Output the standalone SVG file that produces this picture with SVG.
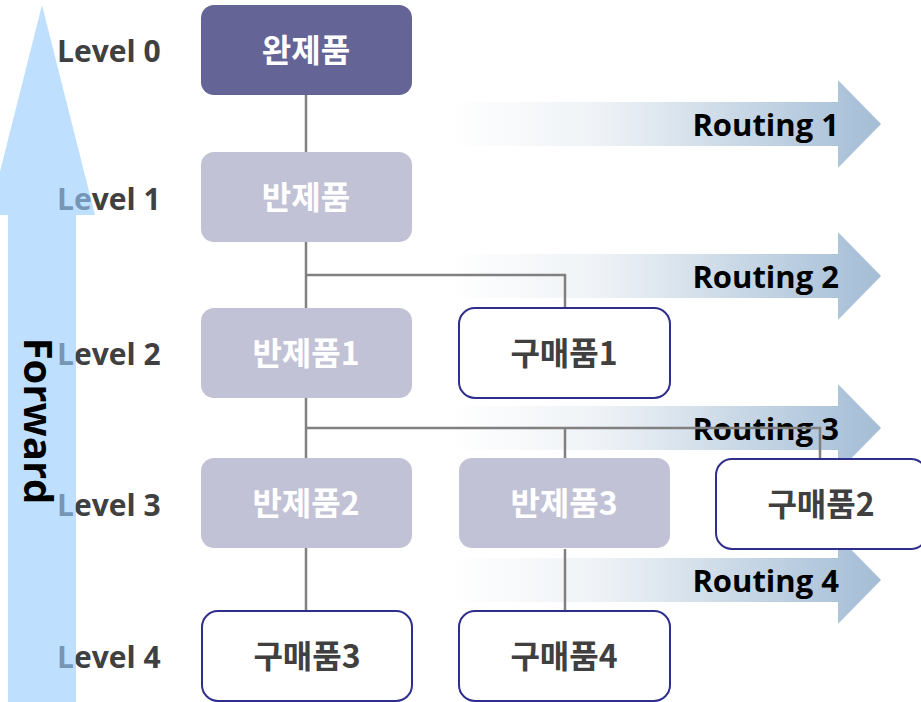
<svg xmlns="http://www.w3.org/2000/svg" width="921" height="702" viewBox="0 0 921 702">
<style>
.lvl{font-family:"Open Sans","Noto Sans CJK KR",sans-serif;font-weight:bold;font-size:30px;fill:#404040}
.rt{font-family:"Open Sans","Noto Sans CJK KR",sans-serif;font-weight:bold;font-size:31px;fill:#000000;text-anchor:end}
.nt{font-family:"Noto Sans CJK KR",sans-serif;font-weight:bold;font-size:32px;text-anchor:middle}
.w{fill:#ffffff}
.d{fill:#404040}
.dark{fill:#646496}
.semi{fill:#c2c2d6}
.buy{fill:#ffffff;stroke:#2e2e8c;stroke-width:2}
.con{fill:none;stroke:#808080;stroke-width:2.5}
.route{fill:url(#rg)}
</style>
<defs>
<linearGradient id="rg" x1="0" y1="0" x2="1" y2="0">
<stop offset="0" stop-color="#ffffff"/>
<stop offset="0.35" stop-color="#eef2f6"/>
<stop offset="1" stop-color="#a3bdd6"/>
</linearGradient>
<path id="ra" d="M450,-22 L838,-22 L838,-44 L881,0 L838,44 L838,22 L450,22 Z"/>
</defs>
<rect width="921" height="702" fill="#ffffff"/>

<g id="levels">
<text class="lvl" x="57" y="62">Level 0</text>
<text class="lvl" x="57" y="210">Level 1</text>
<text class="lvl" x="57" y="365">Level 2</text>
<text class="lvl" x="57" y="516">Level 3</text>
<text class="lvl" x="57" y="668">Level 4</text>
</g>

<g id="forward">
<polygon points="42,5 95,215 76,215 76,702 8,702 8,215 -11,215" fill="#97cbff" fill-opacity="0.62"/>
<text transform="translate(24,421) rotate(90)" text-anchor="middle" font-family="Open Sans,Noto Sans CJK KR,sans-serif" font-weight="bold" font-size="40" fill="#000000">Forward</text>
</g>

<g id="routings">
<use href="#ra" class="route" transform="translate(0,124)"/>
<use href="#ra" class="route" transform="translate(0,276)"/>
<use href="#ra" class="route" transform="translate(0,428)"/>
<use href="#ra" class="route" transform="translate(0,580)"/>
<text class="rt" x="839" y="136">Routing 1</text>
<text class="rt" x="839" y="288">Routing 2</text>
<text class="rt" x="839" y="440">Routing 3</text>
<text class="rt" x="839" y="592">Routing 4</text>
</g>

<g id="connectors">
<path class="con" d="M306,95 V152"/>
<path class="con" d="M306,242 V308 M306,275 H565 V308"/>
<path class="con" d="M306,398 V458 M306,428 H820 V458 M565,428 V458"/>
<path class="con" d="M306,548 V610"/>
<path class="con" d="M565,549 V610"/>
</g>

<g id="n-wanjepum"><rect class="dark" x="201" y="5" width="211" height="90" rx="13"/><text class="nt w" x="306" y="62">완제품</text></g>
<g id="n-banjepum"><rect class="semi" x="201" y="152" width="211" height="90" rx="13"/><text class="nt w" x="306" y="209">반제품</text></g>
<g id="n-banjepum1"><rect class="semi" x="201" y="308" width="211" height="90" rx="13"/><text class="nt w" x="306" y="365">반제품1</text></g>
<g id="n-gumaepum1"><rect class="buy" x="459" y="308" width="211" height="90" rx="16"/><text class="nt d" x="564" y="365">구매품1</text></g>
<g id="n-banjepum2"><rect class="semi" x="201" y="458" width="211" height="90" rx="13"/><text class="nt w" x="306" y="515">반제품2</text></g>
<g id="n-banjepum3"><rect class="semi" x="459" y="458" width="211" height="90" rx="13"/><text class="nt w" x="564" y="515">반제품3</text></g>
<g id="n-gumaepum2"><rect class="buy" x="716" y="459" width="211" height="90" rx="16"/><text class="nt d" x="821" y="516">구매품2</text></g>
<g id="n-gumaepum3"><rect class="buy" x="202" y="611" width="210" height="90" rx="16"/><text class="nt d" x="307" y="668">구매품3</text></g>
<g id="n-gumaepum4"><rect class="buy" x="459" y="611" width="211" height="90" rx="16"/><text class="nt d" x="564" y="668">구매품4</text></g>
</svg>
